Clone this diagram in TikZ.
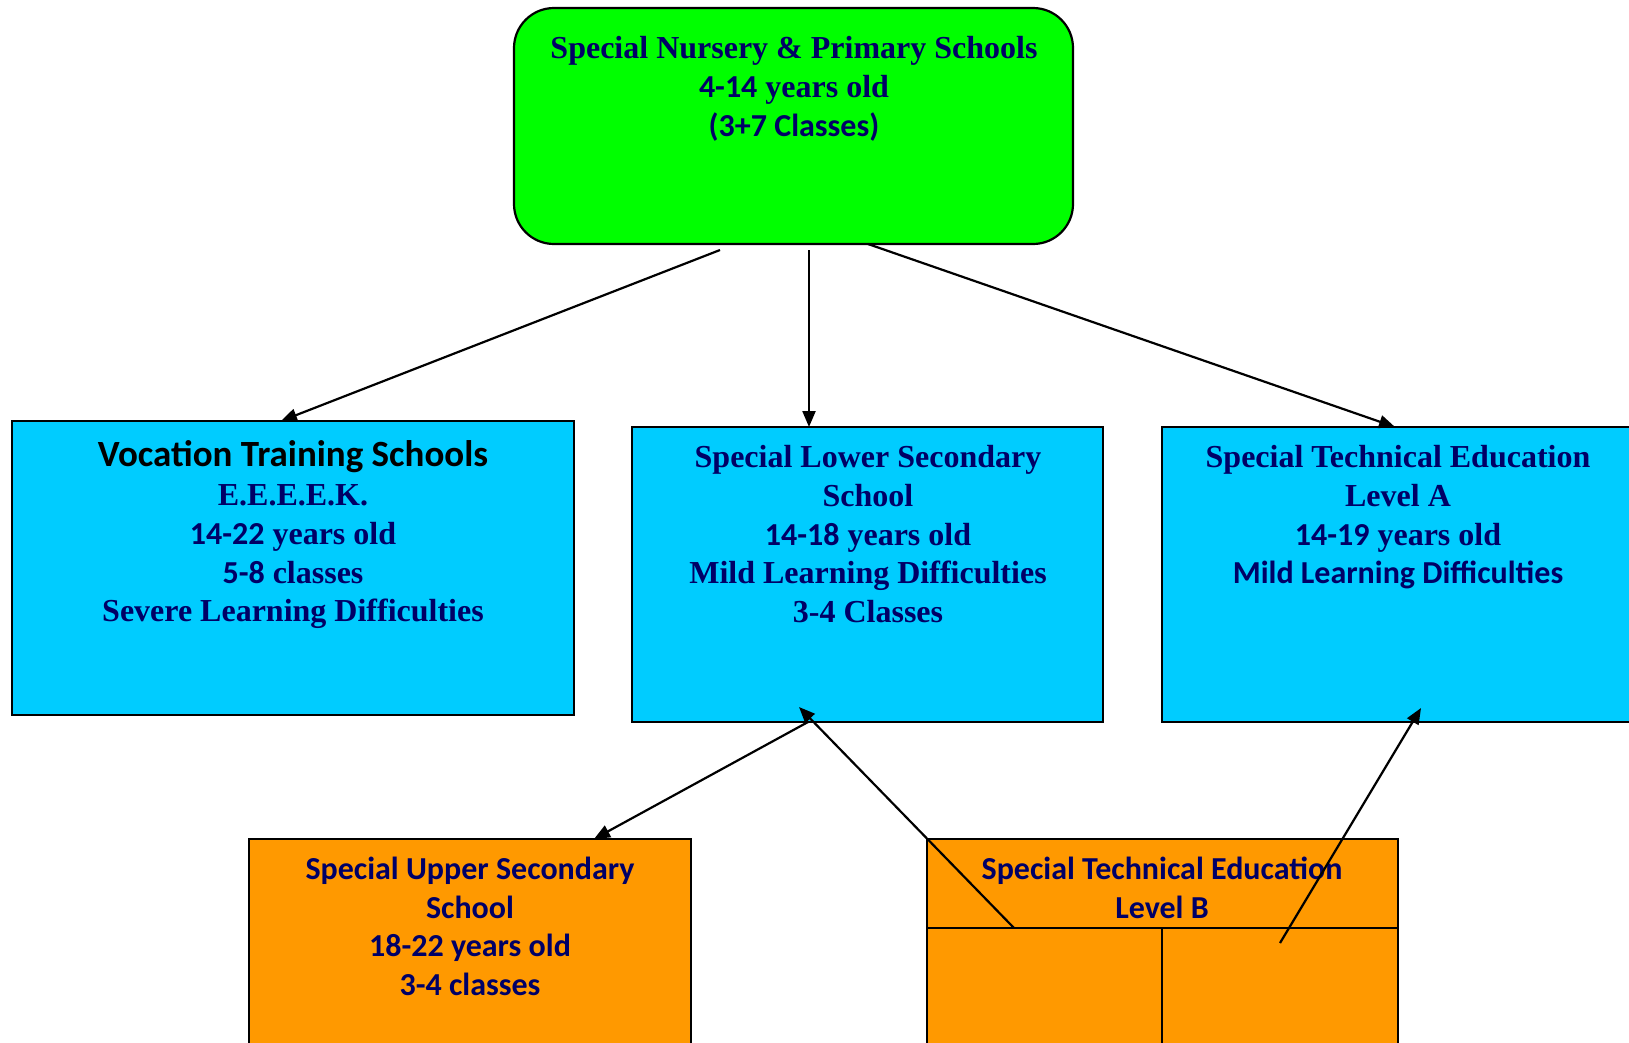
\documentclass[tikz,border=0pt]{standalone}
\usepackage{fontspec}
\setmainfont{Liberation Serif}
\newfontfamily\calib{Carlito}
\usetikzlibrary{arrows.meta}
\definecolor{navy}{HTML}{000066}
\definecolor{grn}{HTML}{00FF00}
\definecolor{cyn}{HTML}{00CCFF}
\definecolor{org}{HTML}{FF9900}
\begin{document}
\begin{tikzpicture}[x=1pt,y=-1pt,
 box/.style={draw=black, line width=2.2pt, anchor=north west, inner sep=0pt, outer sep=0pt},
 txt/.style={anchor=north, align=center, inner sep=0pt, text=navy, font=\fontsize{32}{38.8}\selectfont\bfseries},
 txtc/.style={txt, font=\fontsize{32}{38.6}\selectfont\bfseries\calib},
 arr/.style={line width=2.2pt, -{Triangle[length=16pt,width=13pt]}},
 ln/.style={line width=2.2pt}]
\useasboundingbox (0,0) rectangle (1629,1042);
\clip (0,0) rectangle (1629,1042);
% boxes
\node[box, fill=grn, rounded corners=40pt, minimum width=559pt, minimum height=236pt] (np) at (514,8) {};
\node[box, fill=cyn, minimum width=562pt, minimum height=294pt] (voc) at (12,421) {};
\node[box, fill=cyn, minimum width=471pt, minimum height=295pt] (lsec) at (632,427) {};
\node[box, fill=cyn, minimum width=520pt, minimum height=295pt] (teca) at (1162,427) {};
\node[box, fill=org, minimum width=442pt, minimum height=230pt] (usec) at (249,839) {};
\node[box, fill=org, minimum width=471pt, minimum height=230pt] (tecb) at (927,839) {};
% dividers in Level B box
\coordinate (tbl) at (927,928);
\coordinate (tbr) at (1398,928);
\coordinate (tbm) at (1162,928);
\coordinate (tbb) at (1162,1060);
\draw[ln] (tbl) -- (tbr);
\draw[ln] (tbm) -- (tbb);
% texts
\node[txt] (npt) at (794,36) {Special Nursery \& Primary Schools\\ {\calib 4-14} years old\\ {\calib (3+7 Classes)}};
\node[txt, font=\fontsize{32}{38.6}\selectfont\bfseries] (voct) at (293,440) {{\calib\color{black}\fontsize{37}{40}\selectfont Vocation Training Schools}\\[1pt] E.E.E.E.K.\\ {\calib 14-22} years old\\ {\calib 5-8} classes\\ Severe Learning Difficulties};
\node[txt] (lsect) at (868,445) {Special Lower Secondary\\ School\\ {\calib 14-18} years old\\ Mild Learning Difficulties\\ 3-4 Classes};
\node[txt] (tecat) at (1398,445) {Special Technical Education\\ Level A\\ {\calib 14-19} years old\\ {\calib Mild Learning Difficulties}};
\node[txtc] (usect) at (470,857) {Special Upper Secondary\\ School\\ 18-22 years old\\ 3-4 classes};
\node[txtc] (tecbt) at (1162,857) {Special Technical Education\\ Level B};
% connectors
\coordinate (s1) at (720,250);
\coordinate (e1) at (281,421);
\coordinate (s2) at (809,250);
\coordinate (e2) at (809,427);
\coordinate (s3) at (868,244);
\coordinate (e3) at (1395,427);
\coordinate (s4) at (808,722);
\coordinate (e4) at (594,839);
\coordinate (s5) at (1014,928);
\coordinate (e5) at (799,707);
\coordinate (s6) at (1280,943);
\coordinate (e6) at (1421,708);
\draw[arr] (s1) -- (e1);
\draw[arr] (s2) -- (e2);
\draw[arr] (s3) -- (e3);
\draw[arr] (s4) -- (e4);
\draw[arr] (s5) -- (e5);
\draw[arr] (s6) -- (e6);
\end{tikzpicture}
\end{document}
